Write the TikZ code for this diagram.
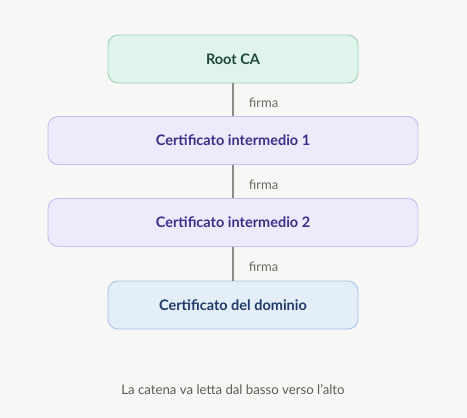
\documentclass[tikz,border=0pt]{standalone}
\usepackage{fontspec}
\setmainfont{Lato}
\definecolor{bg}{HTML}{F7F7F5}
\definecolor{rootfill}{HTML}{E1F4EC}
\definecolor{rootdraw}{HTML}{9FD0BA}
\definecolor{roottext}{HTML}{1D4A38}
\definecolor{imfill}{HTML}{EEEAFB}
\definecolor{imdraw}{HTML}{C6BEEC}
\definecolor{imtext}{HTML}{3B2F88}
\definecolor{domfill}{HTML}{E3EEF9}
\definecolor{domdraw}{HTML}{A8C3E6}
\definecolor{domtext}{HTML}{1F3A68}
\definecolor{linec}{HTML}{8A8A86}
\definecolor{labc}{HTML}{6A6A66}
\definecolor{capc}{HTML}{5A5A56}
\begin{document}
\begin{tikzpicture}[x=1pt,y=-1pt,
  box/.style={rounded corners=10pt,line width=0.9pt,minimum height=48pt,font=\fontsize{14.5}{16}\selectfont\bfseries},
  rootbox/.style={box,fill=rootfill,draw=rootdraw,text=roottext,minimum width=250pt},
  imbox/.style={box,fill=imfill,draw=imdraw,text=imtext,minimum width=370pt},
  dombox/.style={box,fill=domfill,draw=domdraw,text=domtext,minimum width=250pt},
  conn/.style={draw=linec,line width=1.3pt},
  lab/.style={text=labc,font=\fontsize{13}{15}\selectfont,anchor=west,xshift=12pt,yshift=-3pt},
  captxt/.style={text=capc,font=\fontsize{13.2}{15}\selectfont}]
\fill[bg] (0,0) rectangle (467,418);
\useasboundingbox (0,0) rectangle (467,418);
\node[rootbox] (root) at (233,59) {Root CA};
\node[imbox] (im1) at (233,140.5) {Certificato intermedio 1};
\node[imbox] (im2) at (233,222.5) {Certificato intermedio 2};
\node[dombox] (dom) at (233,305) {Certificato del dominio};
\draw[conn] (root) -- node[lab] {firma} (im1);
\draw[conn] (im1) -- node[lab] {firma} (im2);
\draw[conn] (im2) -- node[lab] {firma} (dom);
\node[captxt] (caption) at (233,390) {La catena va letta dal basso verso l'alto};
\end{tikzpicture}
\end{document}
